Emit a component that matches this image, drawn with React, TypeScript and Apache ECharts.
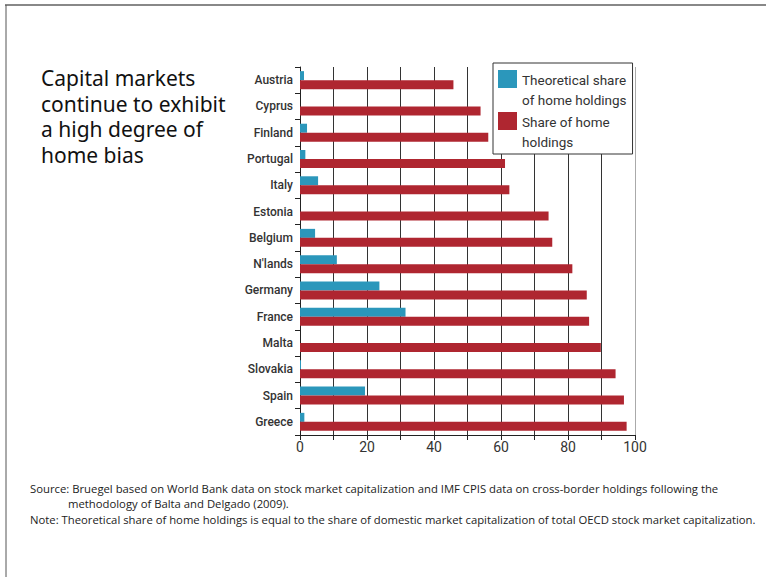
import React, { useEffect, useRef } from 'react';
import * as echarts from 'echarts';

const categories = ['Austria', 'Cyprus', 'Finland', 'Portugal', 'Italy', 'Estonia', 'Belgium', "N'lands", 'Germany', 'France', 'Malta', 'Slovakia', 'Spain', 'Greece'];
const theoreticalShare = [1.2, 0, 2.1, 1.6, 5.4, 0, 4.5, 11.0, 23.7, 31.5, 0, 0.3, 19.4, 1.3];
const homeShare = [45.8, 53.9, 56.2, 61.2, 62.5, 74.2, 75.3, 81.3, 85.6, 86.3, 89.8, 94.2, 96.7, 97.5];
const labeledTicks = [0, 20, 40, 60, 80, 100];

const seriesNames = ['Theoretical share of home holdings', 'Share of home holdings'];
const legendLabels: Record<string, string> = {
  'Theoretical share of home holdings': 'Theoretical share\nof home holdings',
  'Share of home holdings': 'Share of home\nholdings',
};
const titleLines = ['Capital markets', 'continue to exhibit', 'a high degree of', 'home bias'];
const sourceLine1 = 'Source: Bruegel based on World Bank data on stock market capitalization and IMF CPIS data on cross-border holdings following the';
const sourceLine2 = 'methodology of Balta and Delgado (2009).';
const noteLine = 'Note: Theoretical share of home holdings is equal to the share of domestic market capitalization of total OECD stock market capitalization.';

const BLUE = '#2b97bb';
const RED = '#af2630';

export default function App() {
  const ref = useRef<HTMLDivElement>(null);
  useEffect(() => {
    const chart = echarts.init(ref.current!, null, { renderer: 'svg' });
    const noteFont = { fontFamily: 'Open Sans', fontSize: 11.3, fill: '#222' };
    const titleElements = titleLines.map((line, i) => ({
      type: 'text',
      x: 41,
      y: 78 + i * 25.7,
      style: {
        text: line,
        fontFamily: 'Noto Sans',
        fontSize: 21,
        fill: '#111',
        verticalAlign: 'middle',
        align: 'left',
      },
    }));
    chart.setOption({
      animation: false,
      backgroundColor: '#fff',
      grid: { left: 300, right: 131, top: 67, bottom: 142, containLabel: false },
      xAxis: {
        type: 'value',
        min: 0,
        max: 100,
        interval: 10,
        axisLine: { show: true, lineStyle: { color: '#222', width: 1 } },
        axisTick: { show: true, length: 5, lineStyle: { color: '#222' } },
        axisLabel: {
          margin: 5,
          color: '#333',
          fontFamily: 'Roboto',
          fontSize: 14,
          formatter: (v: number) => (labeledTicks.includes(v) ? String(v) : ''),
        },
        splitLine: {
          show: true,
          lineStyle: {
            width: 1,
            color: ['#333', '#333', '#333', '#333', '#333', '#333', '#333', '#333', '#333', '#333', '#aaa'],
          },
        },
      },
      yAxis: {
        type: 'category',
        data: categories,
        inverse: true,
        axisLine: { show: true, lineStyle: { color: '#222', width: 1 } },
        axisTick: { show: true, length: 5, lineStyle: { color: '#222' } },
        axisLabel: { margin: 7, color: '#333', fontFamily: 'Roboto', fontSize: 12, fontWeight: 500 },
        splitLine: { show: false },
      },
      legend: {
        orient: 'vertical',
        left: 493,
        top: 63,
        padding: [7, 6, 2, 5],
        itemGap: 2,
        itemWidth: 19,
        itemHeight: 40,
        itemStyle: { borderWidth: 0 },
        icon: 'path://M0,0L19,0L19,18L0,18Z M0,40L0.001,40',
        borderColor: '#333',
        borderWidth: 1,
        backgroundColor: '#fff',
        data: seriesNames,
        formatter: (name: string) => legendLabels[name] || name,
        textStyle: { fontFamily: 'Roboto', fontSize: 13.5, color: '#333', lineHeight: 20 },
      },
      series: [
        {
          name: seriesNames[0],
          type: 'bar',
          data: theoreticalShare,
          barWidth: 9,
          barGap: '0%',
          itemStyle: { color: BLUE },
        },
        {
          name: seriesNames[1],
          type: 'bar',
          data: homeShare,
          barWidth: 9,
          barGap: '0%',
          itemStyle: { color: RED },
        },
      ],
      graphic: [
        { type: 'line', shape: { x1: 5, y1: 5, x2: 766, y2: 5 }, style: { stroke: '#888', lineWidth: 2 } },
        { type: 'line', shape: { x1: 6, y1: 5, x2: 6, y2: 577 }, style: { stroke: '#555', lineWidth: 1 } },
        ...titleElements,
        { type: 'text', left: 30, top: 483, style: { text: sourceLine1, ...noteFont } },
        { type: 'text', left: 68, top: 498, style: { text: sourceLine2, ...noteFont } },
        { type: 'text', left: 30, top: 514, style: { text: noteLine, ...noteFont } },
      ],
    });
    return () => chart.dispose();
  }, []);
  return <div ref={ref} style={{ position: 'absolute', left: 0, top: 0, width: 766, height: 577 }} />;
}
